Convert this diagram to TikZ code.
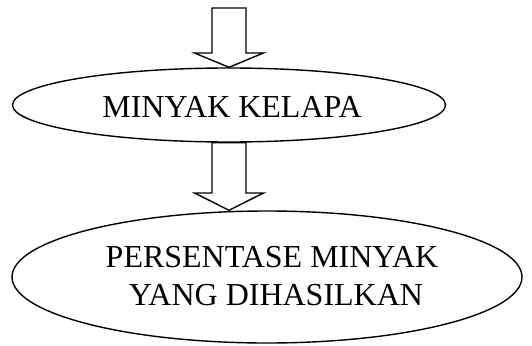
\documentclass[tikz,border=0pt]{standalone}
\usepackage{fontspec}
\setmainfont{Liberation Serif}
\usetikzlibrary{shapes.geometric,calc}
\begin{document}
\begin{tikzpicture}[x=1pt,y=-1pt,
  oval/.style={ellipse,draw,line width=1.4pt,inner sep=0pt},
  blockarrow/.style={draw,line width=1.4pt,line join=miter,fill=white},
  lbl/.style={inner sep=0pt,anchor=base,font=\fontsize{32}{38}\selectfont}]
\useasboundingbox (0,0) rectangle (532,345);
% ellipses
\node[oval,minimum width=433pt,minimum height=74pt] (e1) at (229,105) {};
\node[oval,minimum width=510pt,minimum height=132pt] (e2) at (267,277) {};
% texts
\node[lbl] (t1) at (232,117) {MINYAK KELAPA};
\node[lbl] (t2a) at (272,267) {PERSENTASE MINYAK};
\node[lbl] (t2b) at (276,305) {YANG DIHASILKAN};
% arrow 1
\coordinate (s1) at (229,8);
\coordinate (h1) at (229,53);
\draw[blockarrow] ($(s1)+(-17,0)$) -- ($(s1)+(17,0)$) -- ($(h1)+(17,0)$)
  -- ($(h1)+(34.5,0)$) -- (e1.north) -- ($(h1)+(-34.5,0)$) -- ($(h1)+(-17,0)$) -- cycle;
% arrow 2
\coordinate (h2) at (229,193);
\draw[blockarrow] ($(e1.south)+(-17,0)$) -- ($(e1.south)+(17,0)$) -- ($(h2)+(17,0)$)
  -- ($(h2)+(34.5,0)$) -- (e2.north -| e1.south) -- ($(h2)+(-34.5,0)$) -- ($(h2)+(-17,0)$) -- cycle;
\end{tikzpicture}
\end{document}
